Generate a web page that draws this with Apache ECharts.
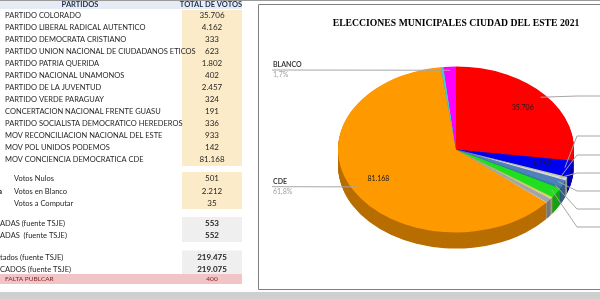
<!DOCTYPE html>
<html><head><meta charset="utf-8">
<script src="https://cdn.jsdelivr.net/npm/echarts@6/dist/echarts.min.js"></script>
<style>
html,body{margin:0;padding:0;background:#fff;width:600px;height:299px;overflow:hidden}
#main{position:absolute;left:0;top:0;width:600px;height:299px;z-index:2}
#pie{position:absolute;z-index:1}
</style></head><body>
<div id="pie"></div><div id="main"></div>
<script>
// ---------------- data ----------------
const partidos = ['PARTIDO COLORADO','PARTIDO LIBERAL RADICAL AUTENTICO','PARTIDO DEMOCRATA CRISTIANO','PARTIDO UNION NACIONAL DE CIUDADANOS ETICOS','PARTIDO PATRIA QUERIDA','PARTIDO NACIONAL UNAMONOS','PARTIDO DE LA JUVENTUD','PARTIDO VERDE PARAGUAY','CONCERTACION NACIONAL FRENTE GUASU','PARTIDO SOCIALISTA DEMOCRATICO HEREDEROS','MOV RECONCILIACION NACIONAL DEL ESTE','MOV POL UNIDOS PODEMOS','MOV CONCIENCIA DEMOCRATICA CDE'];
const votosPartidos = [35706, 4162, 333, 623, 1802, 402, 2457, 324, 191, 336, 933, 142, 81168];
const otrosNombres = ['Votos Nulos','Votos en Blanco','Votos a Computar'];
const otrosVotos = [501, 2212, 35];
const actasNombres = ['ADAS (fuente TSJE)','ADAS  (fuente TSJE)'];
const actasValores = [553, 552];
const totalNombres = ['tados (fuente TSJE)','CADOS (fuente TSJE)'];
const totalValores = [219475, 219075];
const faltaNombre = 'FALTA PUBLCAR';
const faltaValor = 400;
const headers = ['PARTIDOS','TOTAL DE VOTOS'];
const chartTitle = 'ELECCIONES MUNICIPALES CIUDAD DEL ESTE 2021';
const sliceNames = ['COLORADO','PLRA','PDC','UNACE','PPQ','UNAMONOS','JUVENTUD','VERDE','FRENTE GUASU','PSDH','MRNE','PODEMOS','CDE','NULOS','BLANCO'];
const sliceValues = votosPartidos.concat([otrosVotos[0], otrosVotos[1]]);
const insideLabelIdx = [0, 1, 12];
const leftLabelIdx = [14, 12];
const rightLabelIdx = [0, 1, 2, 3, 4, 5, 6];

// ---------------- style ----------------
const sliceColors = ['#ff0000','#0000f0','#c3d69b','#d9d9d9','#4f81bd','#31859c','#1ee01e','#92d050','#ffff66','#bfbfbf','#a5a5a5','#eeece1','#ff9900','#4bc8d0','#ff00ff'];
const CX = 456, CY = 149, RX = 118, RY = 83, DEPTH = 16;
const SANS = 'Lato, "Open Sans", sans-serif';

function fmt(n){ return String(n).replace(/\B(?=(\d{3})+(?!\d))/g, '.'); }
function dark(hex, f){ f = f || 0.72; const n = parseInt(hex.slice(1),16);
  const r = Math.round(((n>>16)&255)*f), g = Math.round(((n>>8)&255)*f), b = Math.round((n&255)*f);
  return 'rgb(' + r + ',' + g + ',' + b + ')'; }

// ---------------- pie (squashed into an ellipse) ----------------
const S = RY / RX;
const PW = 2 * RX + 24, PC = PW / 2;
const pieDiv = document.getElementById('pie');
pieDiv.style.left = (CX - PC) + 'px';
pieDiv.style.top = (CY - PC * S) + 'px';
pieDiv.style.width = PW + 'px';
pieDiv.style.height = (PW + DEPTH / S + 4) + 'px';
pieDiv.style.transform = 'scaleY(' + S + ')';
pieDiv.style.transformOrigin = '0 0';
const pieChart = echarts.init(pieDiv, null, {renderer: 'svg'});
const pieSeries = [];
const depthSteps = Math.ceil(DEPTH / S);
function pieLayer(offset, colorFn){
  return { type: 'pie', center: [PC, PC + offset], radius: RX, startAngle: 90, clockwise: true,
    silent: true, animation: false, label: {show: false}, labelLine: {show: false},
    emphasis: {disabled: true},
    data: sliceValues.map((v, i) => ({ name: sliceNames[i], value: v, itemStyle: {color: colorFn(sliceColors[i]), borderWidth: 0} })) };
}
for (let k = depthSteps; k >= 1; k--) pieSeries.push(pieLayer(k, c => dark(c)));
pieSeries.push(pieLayer(0, c => c));
pieChart.setOption({ animation: false, series: pieSeries });

// ---------------- main layer: table, title, labels ----------------
const total = sliceValues.reduce((a, b) => a + b, 0);
const cum = []; let acc = 0;
sliceValues.forEach(v => { cum.push([acc / total * 360, (acc + v) / total * 360]); acc += v; });
function mid(i){ return (cum[i][0] + cum[i][1]) / 2; }
function ell(deg, r){ const a = deg * Math.PI / 180; return [CX + RX * r * Math.sin(a), CY - RY * r * Math.cos(a)]; }
function pct(v){ return (v / total * 100).toFixed(1).replace('.', ',') + '%'; }

const g = [];
function txt(x, y, t, o){ o = o || {};
  g.push({ type: 'text', x: x, y: y, z: 10, style: { text: t, font: o.font || ('7.5px ' + SANS), fill: o.fill || '#262626',
    align: o.align || 'left', textAlign: o.align || 'left', verticalAlign: 'middle', textVerticalAlign: 'middle' } }); }
function rect(x, y, w, h, fill, stroke){ g.push({ type: 'rect', z: 1, shape: {x: x, y: y, width: w, height: h},
  style: { fill: fill || 'none', stroke: stroke || null, lineWidth: 1 } }); }
function line(pts, color){ g.push({ type: 'polyline', z: 5, shape: {points: pts}, style: {stroke: color || '#a6a6a6', lineWidth: 1, fill: null} }); }

// table header
rect(0, 0, 242, 9, '#e7ecf4');
line([[0, 0.5], [600, 0.5]], '#9a9a9a');
txt(80, 4.6, headers[0], {font: 'bold 7.5px ' + SANS, align: 'center', fill: '#1f2f4f'});
txt(211, 4.6, headers[1], {font: 'bold 7.5px ' + SANS, align: 'center', fill: '#1f2f4f'});
// parties
rect(182, 10, 60, 156, '#fcebc9');
partidos.forEach((p, i) => { const y = 15.8 + 11.94 * i; txt(5, y, p); txt(212, y, fmt(votosPartidos[i]), {align: 'center', font: '8px ' + SANS}); });
// others
rect(182, 172, 60, 37, '#fcebc9');
otrosNombres.forEach((p, i) => { const y = 178.7 + 12.5 * i; txt(14, y, p); txt(212, y, fmt(otrosVotos[i]), {align: 'center', font: '8px ' + SANS}); });
txt(-2, 191.2, 'a', {font: 'bold 8px ' + SANS});
// actas
rect(182, 217, 60, 25, '#efefef');
actasNombres.forEach((p, i) => { const y = 223.8 + 12 * i; txt(0, y, p); txt(212, y, fmt(actasValores[i]), {align: 'center', font: 'bold 8px ' + SANS}); });
rect(182, 250.5, 60, 23.5, '#efefef');
totalNombres.forEach((p, i) => { const y = 257.3 + 12 * i; txt(0, y, p); txt(212, y, fmt(totalValores[i]), {align: 'center', font: 'bold 8px ' + SANS}); });
rect(0, 274, 242, 10, '#f3c4c6');
txt(5, 279.2, faltaNombre, {font: '6.5px ' + SANS, fill: '#7a2a2a'});
txt(212, 279.2, fmt(faltaValor), {font: '6.5px ' + SANS, fill: '#7a2a2a', align: 'center'});
// bottom band
rect(0, 292, 600, 8, '#cfcfcf');
// chart frame
rect(258.5, 4.5, 345, 285, null, '#7f7f7f');
txt(456, 23.5, chartTitle, {font: 'bold 9.7px "Liberation Serif", "DejaVu Serif", serif', align: 'center', fill: '#000'});

// inside value labels
insideLabelIdx.forEach(i => { const p = ell(mid(i), 0.75); txt(p[0], p[1], fmt(sliceValues[i]), {font: '7px ' + SANS, fill: '#1a1a1a', align: 'center'}); });
// left outside labels
const leftY = [70, 186.7];
leftLabelIdx.forEach((i, k) => { const p = ell(mid(i), 0.95); const y = leftY[k];
  line([[272, y], [p[0], p[1]]]);
  txt(273, y - 5, sliceNames[i], {font: 'bold 7px ' + SANS, fill: '#404040'});
  txt(273, y + 5, pct(sliceValues[i]), {font: '7px ' + SANS, fill: '#a0a0a0'}); });
// right outside leader lines (labels fall outside the picture)
const rightY = [96, 136, 155, 173, 191, 209, 227];
rightLabelIdx.forEach((i, k) => { const p = ell(mid(i), 0.95); const y = rightY[k];
  line([[p[0], p[1]], [577, y], [600, y]]); });

const main = echarts.init(document.getElementById('main'), null, {renderer: 'canvas'});
main.setOption({ backgroundColor: 'transparent', animation: false, graphic: {elements: g} });
</script>
</body></html>
